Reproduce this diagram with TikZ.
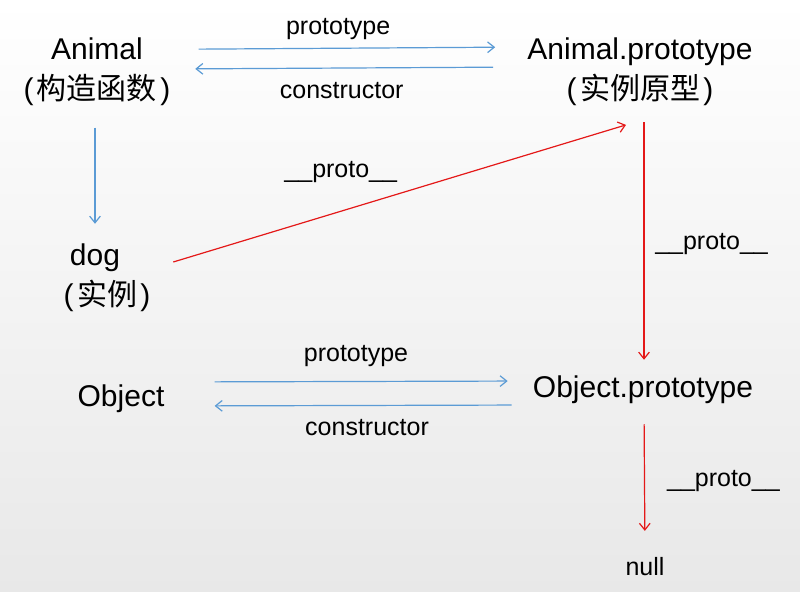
\documentclass[tikz,border=0pt]{standalone}
\usepackage{fontspec}
\setmainfont{Liberation Sans}
\newfontfamily\cjk{Noto Sans CJK SC}
\usetikzlibrary{arrows.meta}
\definecolor{linkblue}{RGB}{91,155,213}
\definecolor{linkred}{RGB}{228,24,24}

\begin{document}
\begin{tikzpicture}[x=0.75pt, y=-0.75pt,
        main/.style = {font=\fontsize{22.5}{30}\selectfont, inner sep=0pt, align=center},
        lbl/.style = {font=\fontsize{18.75}{22}\selectfont, inner sep=0pt},
        blue link/.style = {draw=linkblue, line width=0.9pt, -{Straight Barb[length=5pt,width=8pt]}},
        red link/.style = {blue link, draw=linkred}]
        \useasboundingbox (0,0) rectangle (800,592);
        \shade[top color=white, middle color=white, bottom color=black!9] (0,0) rectangle (800,592);
        \node[main] (animal) at (97,72) {Animal\\(\kern2.5pt{\cjk 构造函数}\kern2.5pt)};
        \node[main] (animalproto) at (640,72) {Animal.prototype\\(\kern2.5pt{\cjk 实例原型}\kern2.5pt)};
        \node[main] (dog) at (107,278) {dog\hspace*{18pt}\\(\kern2.5pt{\cjk 实例}\kern2.5pt)};
        \node[main] (object) at (121,399) {Object};
        \node[main] (objectproto) at (643,390) {Object.prototype};
        \node[lbl] (null) at (645,567) {null};
        \draw[blue link, shorten <=21pt, shorten >=24pt] ([yshift=17pt]animal.east) -- node[lbl, above=6pt, pos=.47] (proto1) {prototype} ([yshift=18.75pt]animalproto.west);
        \draw[blue link, shorten <=25.5pt, shorten >=18.5pt] ([yshift=3.75pt]animalproto.west) -- node[lbl, below=10pt, pos=.52] (ctor1) {constructor} ([yshift=2.25pt]animal.east);
        \draw[blue link, shorten <=16pt, shorten >=15pt] ([xshift=-1.5pt]animal.south) -- ([xshift=-9pt]dog.north);
        \draw[red link] ([xshift=17pt, yshift=12pt]dog.east) -- node[lbl, above=21pt, pos=.37] (dunder1) {\_\_proto\_\_} ([xshift=-10.5pt, yshift=-14pt]animalproto.south);
        \draw[red link, shorten <=12pt, shorten >=12pt] ([xshift=3pt]animalproto.south) -- node[lbl, right=8pt, pos=.51] (dunder2) {\_\_proto\_\_} ([xshift=0.75pt]objectproto.north);
        \draw[blue link, shorten <=37.5pt, shorten >=18.75pt] ([yshift=12.75pt]object.east) -- node[lbl, above=11pt, pos=.52] (proto2) {prototype} ([yshift=6.75pt]objectproto.west);
        \draw[blue link, shorten <=15.75pt, shorten >=37.5pt] ([yshift=-11.25pt]objectproto.west) -- node[lbl, below=10pt, pos=.45] (ctor2) {constructor} ([yshift=-5.25pt]object.east);
        \draw[red link, shorten <=15pt, shorten >=20pt] ([xshift=0.75pt]objectproto.south) -- node[lbl, right=16.5pt, pos=.5] (dunder3) {\_\_proto\_\_} (null.north);
    \end{tikzpicture}
\end{document}
